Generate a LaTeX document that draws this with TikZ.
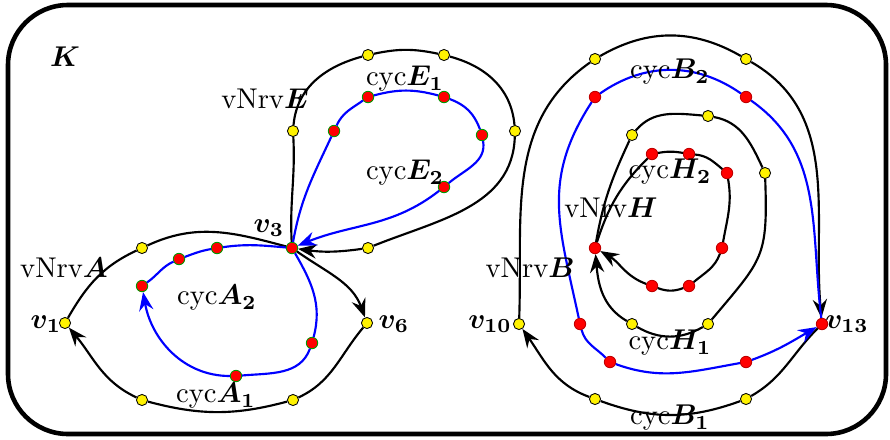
\documentclass[tikz,border=0pt]{standalone}
\usepackage{bm}
\usetikzlibrary{arrows.meta}
\begin{document}
\begin{tikzpicture}[x=0.35pt,y=0.35pt,
  ed/.style={line width=0.75pt,black},
  bl/.style={line width=0.75pt,blue},
  arr/.style={-{Stealth[length=6.5pt,width=5pt,inset=2.2pt]}},
  yv/.style={circle,draw=black,fill=yellow,line width=0.3pt,inner sep=0pt,minimum size=3.9pt},
  rv/.style={circle,draw=green!60!black,fill=red,line width=0.3pt,inner sep=0pt,minimum size=4pt},
  rb/.style={circle,draw=red!75!black,fill=red,line width=0.3pt,inner sep=0pt,minimum size=4pt},
  lab/.style={inner sep=0pt}]
\useasboundingbox (0,0) rectangle (890,-439);
\draw[line width=1.6pt,rounded corners=21pt] (8,-5) rectangle (886,-434);
\node[lab] (K) at (65,-57) {$\bm{K}$};

% ---- component A ----
\node[yv] (v1) at (65,-323) {};
\node[yv] (v6) at (367,-323) {};
\node[rv] (v3) at (292,-248) {};
\node[yv] (ya1) at (142,-248) {};
\node[yv] (ya2) at (142,-400) {};
\node[yv] (ya3) at (293,-400) {};
\node[rv] (ra1) at (142,-286) {};
\node[rv] (ra2) at (179,-259) {};
\node[rv] (ra3) at (217,-248) {};
\node[rv] (ra4) at (312,-343) {};
\node[rv] (ra5) at (236,-376) {};

\draw[ed] (v1) to[out=60,in=205] (ya1) to[out=25,in=165] (v3);
\draw[ed,arr] (v3) to[out=-35,in=110] (v6);
\draw[ed] (v6) to[out=-130,in=25] (ya3) to[out=195,in=-15] (ya2);
\draw[ed,arr] (ya2) to[out=155,in=-50] (v1);

\draw[bl] (v3) to[out=-60,in=75] (ra4) to[out=-110,in=5] (ra5);
\draw[bl,arr] (ra5) to[out=180,in=-80] (ra1);
\draw[bl] (ra1) to[out=35,in=205] (ra2) to[out=20,in=190] (ra3) to[out=8,in=175] (v3);

\node[lab] (lv1) at (46,-324) {$\bm{v_1}$};
\node[lab] (lv6) at (394,-324) {$\bm{v_6}$};
\node[lab] (lv3) at (269,-228) {$\bm{v_3}$};
\node[lab] (lnA) at (64,-268) {vNrv$\bm{A}$};
\node[lab] (lA2) at (217,-298) {cyc$\bm{A_2}$};
\node[lab] (lA1) at (216,-396) {cyc$\bm{A_1}$};

% ---- component E ----
\node[yv] (ye1) at (293,-131) {};
\node[yv] (ye2) at (368,-55) {};
\node[yv] (ye3) at (444,-55) {};
\node[yv] (ye4) at (515,-131) {};
\node[yv] (ye5) at (368,-248) {};
\node[rv] (re1) at (334,-131) {};
\node[rv] (re2) at (368,-97) {};
\node[rv] (re3) at (444,-97) {};
\node[rv] (re4) at (482,-135) {};
\node[rv] (re5) at (444,-187) {};

\draw[ed] (v3) to[out=93,in=-87] (ye1) to[out=85,in=195] (ye2) to[out=12,in=168] (ye3)
  to[out=-15,in=95] (ye4) to[out=-92,in=22] (ye5);
\draw[ed,arr] (ye5) to[out=188,in=-8] (v3);
\draw[bl] (v3) to[out=80,in=-115] (re1) to[out=65,in=215] (re2) to[out=15,in=165] (re3)
  to[out=-20,in=110] (re4) to[out=-80,in=40] (re5);
\draw[bl,arr] (re5) to[out=218,in=22] (v3);

\node[lab] (lnE) at (265,-99) {vNrv$\bm{E}$};
\node[lab] (lE1) at (405,-79) {cyc$\bm{E_1}$};
\node[lab] (lE2) at (405,-173) {cyc$\bm{E_2}$};

% ---- component B ----
\node[yv] (v10) at (519,-324) {};
\node[rb] (v13) at (822,-324) {};
\node[yv] (yb1) at (595,-59) {};
\node[yv] (yb2) at (746,-59) {};
\node[yv] (yb3) at (595,-399) {};
\node[yv] (yb4) at (746,-399) {};
\node[rb] (rb1) at (595,-97) {};
\node[rb] (rb2) at (746,-97) {};
\node[rb] (rb3) at (580,-324) {};
\node[rb] (rb4) at (610,-362) {};
\node[rb] (rb5) at (746,-362) {};

\draw[ed] (v10) to[out=88,in=215] (yb1) to[out=30,in=150] (yb2);
\draw[ed,arr] (yb2) to[out=-30,in=95] (v13);
\draw[ed] (v13) to[out=-135,in=30] (yb4) to[out=200,in=-20] (yb3);
\draw[ed,arr] (yb3) to[out=160,in=-55] (v10);

\draw[bl] (rb3) to[out=102,in=237,looseness=1.1] (rb1) to[out=35,in=145] (rb2) to[out=-35,in=97] (v13);
\draw[bl] (rb3) to[out=-75,in=135] (rb4) to[out=-20,in=190] (rb5);
\draw[bl,arr] (rb5) to[out=20,in=210] (v13);

% ---- H ----
\node[rb] (hv) at (595,-248) {};
\node[yv] (yh1) at (632,-135) {};
\node[yv] (yh2) at (708,-116) {};
\node[yv] (yh3) at (765,-173) {};
\node[yv] (yh4) at (708,-324) {};
\node[yv] (yh5) at (632,-324) {};
\node[rb] (rh1) at (652,-154) {};
\node[rb] (rh2) at (689,-154) {};
\node[rb] (rh3) at (727,-173) {};
\node[rb] (rh4) at (722,-248) {};
\node[rb] (rh5) at (689,-286) {};
\node[rb] (rh6) at (652,-286) {};

\draw[ed] (hv) to[out=80,in=245] (yh1) to[out=50,in=175] (yh2) to[out=-10,in=115] (yh3)
  to[out=-88,in=50,looseness=1.35] (yh4) to[out=210,in=-30] (yh5);
\draw[ed,arr] (yh5) to[out=150,in=-85] (hv);
\draw[ed] (hv) to[out=72,in=225] (rh1) to[out=10,in=170] (rh2) to[out=-5,in=140] (rh3)
  to[out=-80,in=80] (rh4) to[out=-110,in=40] (rh5) to[out=200,in=-20] (rh6);
\draw[ed,arr] (rh6) to[out=160,in=-30] (hv);

\node[lab] (lv10) at (490,-324) {$\bm{v_{10}}$};
\node[lab] (lv13) at (847,-324) {$\bm{v_{13}}$};
\node[lab] (lnB) at (530,-268) {vNrv$\bm{B}$};
\node[lab] (lnH) at (611,-208) {vNrv$\bm{H}$};
\node[lab] (lB2) at (670,-72) {cyc$\bm{B_2}$};
\node[lab] (lH2) at (670,-172) {cyc$\bm{H_2}$};
\node[lab] (lH1) at (670,-343) {cyc$\bm{H_1}$};
\node[lab] (lB1) at (670,-418) {cyc$\bm{B_1}$};
\end{tikzpicture}
\end{document}
